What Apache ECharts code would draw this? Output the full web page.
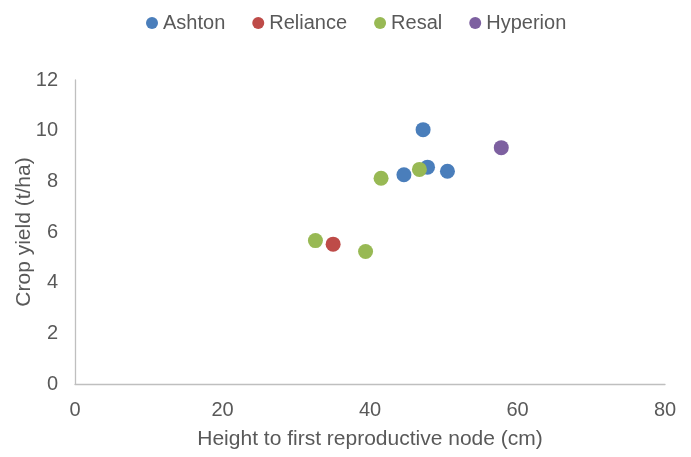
<!DOCTYPE html>
<html><head><meta charset="utf-8">
<script src="https://cdn.jsdelivr.net/npm/echarts@6/dist/echarts.min.js"></script>
<style>html,body{margin:0;padding:0;background:#fff}#c{width:691px;height:457px}</style>
</head><body><div id="c"></div>
<script>
const seriesNames = ["Ashton", "Reliance", "Resal", "Hyperion"];
const ashton = [[47.2, 10.04], [47.8, 8.56], [44.6, 8.26], [50.5, 8.40]];
const reliance = [[35.0, 5.52]];
const resal = [[32.6, 5.66], [39.4, 5.23], [41.5, 8.12], [46.7, 8.47]];
const hyperion = [[57.8, 9.33]];
const colors = ["#4A7EBB", "#BE4B48", "#98B954", "#7D60A0"];
const xTicks = [0, 20, 40, 60, 80];
const yTicks = [0, 2, 4, 6, 8, 10, 12];

const chart = echarts.init(document.getElementById('c'), null, {renderer: 'canvas'});
const font = 'Liberation Sans, Arial, sans-serif';
const dataSets = [ashton, reliance, resal, hyperion];
chart.setOption({
  animation: false,
  color: colors,
  legend: {
    data: seriesNames, top: 8, left: 141,
    icon: 'circle', itemWidth: 12, itemHeight: 12, itemGap: 27,
    textStyle: {fontFamily: font, fontSize: 20, color: '#595959'}
  },
  grid: {left: 75, right: 26, top: 80, bottom: 73, containLabel: false, outerBoundsMode: 'none'},
  xAxis: {
    type: 'value', min: xTicks[0], max: xTicks[xTicks.length - 1], interval: 20,
    name: 'Height to first reproductive node (cm)', nameLocation: 'middle', nameGap: 45,
    nameMoveOverlap: false,
    nameTextStyle: {fontFamily: font, fontSize: 21, color: '#595959'},
    axisLine: {show: true, lineStyle: {color: '#BFBFBF', width: 1.3}},
    axisTick: {show: false}, splitLine: {show: false},
    axisLabel: {fontFamily: font, fontSize: 20, color: '#595959', margin: 16}
  },
  yAxis: {
    type: 'value', min: yTicks[0], max: yTicks[yTicks.length - 1], interval: 2,
    name: 'Crop yield (t/ha)', nameLocation: 'middle', nameGap: 40,
    nameMoveOverlap: false,
    nameTextStyle: {fontFamily: font, fontSize: 21, color: '#595959'},
    axisLine: {show: true, lineStyle: {color: '#BFBFBF', width: 1.3}},
    axisTick: {show: false}, splitLine: {show: false},
    axisLabel: {fontFamily: font, fontSize: 20, color: '#595959', margin: 17}
  },
  series: seriesNames.map((n, i) => ({
    name: n, type: 'scatter', data: dataSets[i], symbolSize: 15,
    itemStyle: {opacity: 1}
  }))
});
</script></body></html>
